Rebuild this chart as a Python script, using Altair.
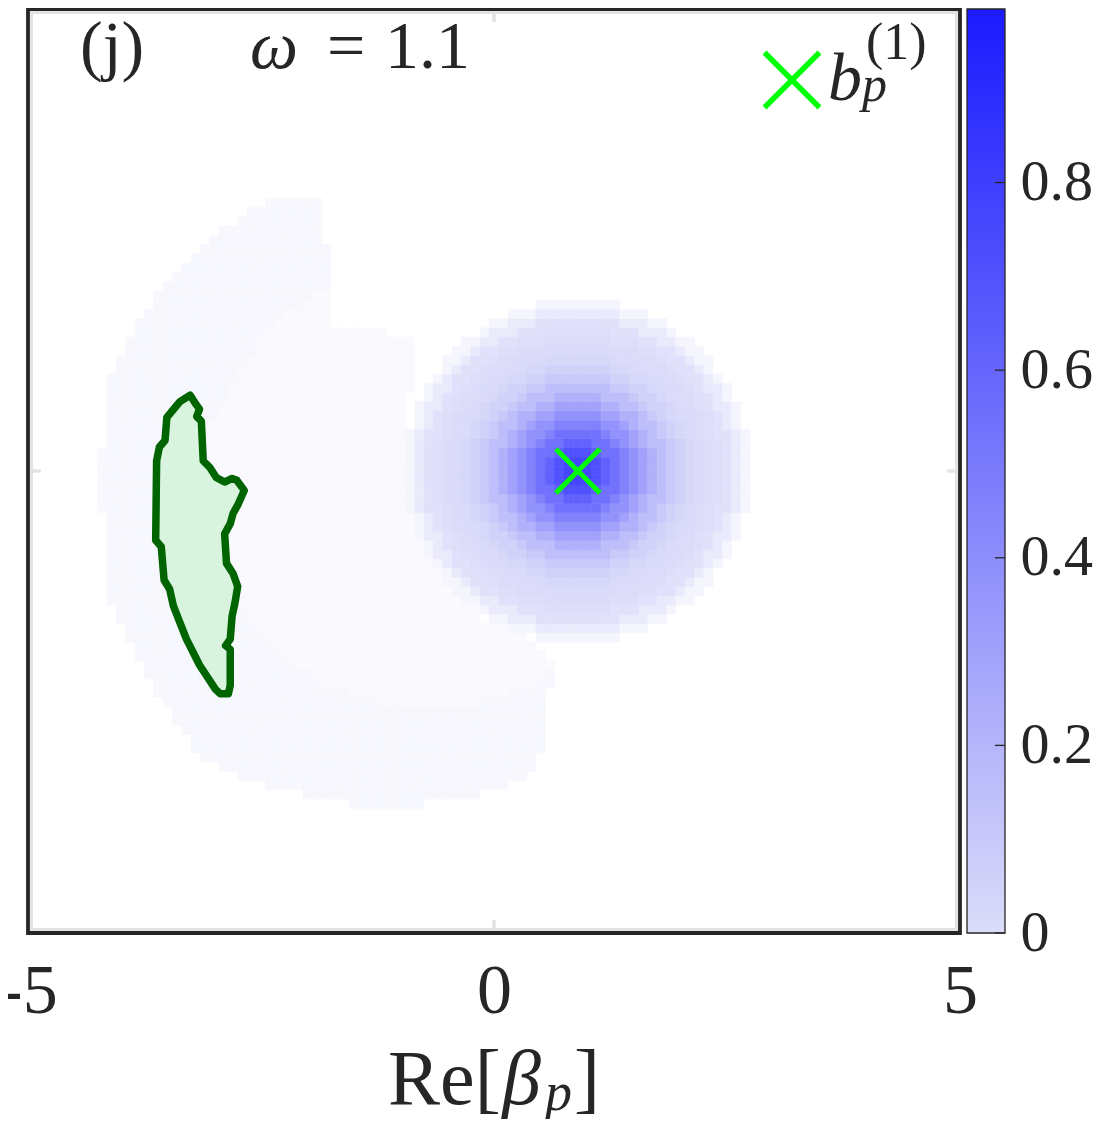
import math
import altair as alt
import pandas as pd

# ---------------- data ----------------
X_DOMAIN = [-5, 5]
Y_DOMAIN = [-5, 5]
X_TICKS = [-5, 0, 5]
INNER_TICKS = [0]
CBAR_DOMAIN = [0, 0.985]
CBAR_TICKS = [0, 0.2, 0.4, 0.6, 0.8]
CELL = 0.1
GRID_HALF = 49

# main blob: centre and level of each ring of cells (ring k = distance ~ k*0.1)
BLOB_CENTER = [0.9, 0.0]
BLOB_RING_LEVELS = [0.80, 0.77, 0.71, 0.63, 0.55, 0.47, 0.39, 0.31, 0.24, 0.17,
                    0.115, 0.075, 0.045, 0.030, 0.022, 0.019, 0.017, 0.012, 0.006]

# faint crescent region (outline), with a slightly darker outer band
FAINT_X = [-2.40, -1.81, -1.78, -0.85, -0.95, -0.60, -0.10, 0.45, 0.63, 0.55,
           0.35, -0.26, -1.22, -1.92, -2.62, -3.10, -3.66, -4.12, -4.23, -4.15,
           -3.58, -3.05]
FAINT_Y = [2.92, 2.94, 1.58, 1.47, 0.30, -1.00, -1.60, -1.85, -2.07, -2.93,
           -3.33, -3.54, -3.65, -3.54, -3.36, -3.14, -2.36, -1.43, -0.14, 1.01,
           2.01, 2.54]
FAINT_ARC_CENTER = [-0.7, -0.17]
FAINT_ARC_INNER_R = 2.4
FAINT_LEVELS = [0.003, 0.0045]

# green contour
CONTOUR_X = [-3.26, -3.37, -3.42, -3.51, -3.53, -3.59, -3.62, -3.63, -3.57, -3.54,
             -3.48, -3.44, -3.37, -3.30, -3.16, -2.99, -2.94, -2.85, -2.83, -2.83,
             -2.88, -2.83, -2.81, -2.78, -2.75, -2.80, -2.87, -2.89, -2.83, -2.80,
             -2.75, -2.68, -2.76, -2.81, -2.89, -2.98, -3.05, -3.12, -3.14, -3.19,
             -3.16, -3.21]
CONTOUR_Y = [0.82, 0.75, 0.69, 0.58, 0.33, 0.26, 0.11, -0.75, -0.82, -1.18,
             -1.28, -1.46, -1.64, -1.82, -2.10, -2.36, -2.41, -2.41, -2.32, -1.93,
             -1.89, -1.82, -1.57, -1.43, -1.25, -1.11, -1.00, -0.68, -0.57, -0.46,
             -0.37, -0.21, -0.10, -0.08, -0.12, -0.07, 0.04, 0.11, 0.54, 0.59,
             0.67, 0.74]

MARKER_X = [0.9]
MARKER_Y = [0.0]

PANEL = "(j)"
OMEGA_SYM = "ω"
OMEGA_EQ = "="
OMEGA_VAL = "1.1"
LEG_B = "b"
LEG_SUB = "p"
LEG_SUP = "(1)"
XT_MAIN = "Re["
XT_BETA = "β"
XT_SUB = "p"
XT_CLOSE = "]"

# ---------------- style ----------------
FONT = "Liberation Serif"
INK = "#262626"
W, H = 932, 924
XSHAPE = "M-1,-1L1,1M-1,1L1,-1"


def inside(px, py, xs, ys):
    c = False
    j = len(xs) - 1
    for i in range(len(xs)):
        if (ys[i] > py) != (ys[j] > py):
            xint = (xs[j] - xs[i]) * (py - ys[i]) / (ys[j] - ys[i]) + xs[i]
            if px < xint:
                c = not c
        j = i
    return c


rows = []
for i in range(-GRID_HALF, GRID_HALF + 1):
    for j in range(-GRID_HALF, GRID_HALF + 1):
        cx, cy = round(i * CELL, 3), round(j * CELL, 3)
        v = 0.0
        k = int(round(math.hypot(cx - BLOB_CENTER[0], cy - BLOB_CENTER[1]) / CELL))
        if k < len(BLOB_RING_LEVELS):
            v = BLOB_RING_LEVELS[k]
        if inside(cx, cy, FAINT_X, FAINT_Y):
            band = math.hypot(cx - FAINT_ARC_CENTER[0], cy - FAINT_ARC_CENTER[1]) >= FAINT_ARC_INNER_R
            v = max(v, FAINT_LEVELS[1] if band else FAINT_LEVELS[0])
        if v > 0:
            rows.append({"x0": round(cx - CELL / 2, 3), "x1": round(cx + CELL / 2, 3),
                         "y0": round(cy - CELL / 2, 3), "y1": round(cy + CELL / 2, 3), "v": v})
cells = pd.DataFrame(rows)

contour = pd.DataFrame({"x": CONTOUR_X + CONTOUR_X[:1], "y": CONTOUR_Y + CONTOUR_Y[:1],
                        "i": list(range(len(CONTOUR_X) + 1))})

xscale = alt.Scale(domain=X_DOMAIN, nice=False, zero=False)
yscale = alt.Scale(domain=Y_DOMAIN, nice=False, zero=False)
heat_scale = alt.Scale(domain=[0, 0.02, CBAR_DOMAIN[1]],
                       range=["#ffffff", "#dcdcfa", "#1a1aff"], interpolate="rgb")

xaxis = alt.Axis(orient="bottom", values=X_TICKS, ticks=False, domain=False, grid=False,
                 labelFont=FONT, labelFontSize=70, labelColor=INK, labelPadding=24,
                 labelExpr="'' + datum.value", labelFlush=False, labelOverlap=False)


def X(f):
    return alt.X(f, type="quantitative", scale=xscale, axis=xaxis, title=None)


def Y(f):
    return alt.Y(f, type="quantitative", scale=yscale, axis=None, title=None)


heat = alt.Chart(cells).mark_rect(strokeWidth=0.6).encode(
    x=X("x0"), x2="x1", y=Y("y0"), y2="y1",
    fill=alt.Fill("v:Q", scale=heat_scale, legend=None),
    stroke=alt.Stroke("v:Q", scale=heat_scale, legend=None),
)

green = alt.Chart(contour).mark_line(
    fill="#d8f4df", stroke="#006400", strokeWidth=7.5, strokeJoin="round", strokeCap="round"
).encode(x=X("x"), y=Y("y"), order=alt.Order("i:Q"))

box = pd.DataFrame({"x0": [X_DOMAIN[0]], "x1": [X_DOMAIN[1]], "y0": [Y_DOMAIN[0]], "y1": [Y_DOMAIN[1]]})
gray_frame = alt.Chart(box).mark_rect(
    filled=False, stroke="#e3e3e3", strokeWidth=3.3,
    xOffset=3.4, x2Offset=-3.4, yOffset=-3.4, y2Offset=3.4
).encode(x=X("x0"), x2="x1", y=Y("y0"), y2="y1")
dark_frame = alt.Chart(box).mark_rect(filled=False, stroke=INK, strokeWidth=3.8).encode(
    x=X("x0"), x2="x1", y=Y("y0"), y2="y1")

tick_df = pd.DataFrame({"v": INNER_TICKS})
tick_style = dict(color="#e3e3e3", strokeWidth=3.5)
t_bottom = alt.Chart(tick_df).mark_rule(**tick_style).encode(x=X("v"), y=alt.value(H - 2), y2=alt.value(H - 13))
t_top = alt.Chart(tick_df).mark_rule(**tick_style).encode(x=X("v"), y=alt.value(2), y2=alt.value(13))
t_left = alt.Chart(tick_df).mark_rule(**tick_style).encode(y=Y("v"), x=alt.value(2), x2=alt.value(13))
t_right = alt.Chart(tick_df).mark_rule(**tick_style).encode(y=Y("v"), x=alt.value(W - 2), x2=alt.value(W - 13))

marker = alt.Chart(pd.DataFrame({"x": MARKER_X, "y": MARKER_Y})).mark_point(
    shape=XSHAPE, size=1936, strokeWidth=5, filled=False, color="#00ff00", opacity=1
).encode(x=X("x"), y=Y("y"))

leg_marker = alt.Chart(pd.DataFrame({"t": [LEG_B]})).mark_point(
    shape=XSHAPE, size=3025, strokeWidth=5.5, filled=False, color="#00ff00", opacity=1
).encode(x=alt.value(764), y=alt.value(71))


def txt(s, x, y, size, italic=False):
    return alt.Chart(pd.DataFrame({"t": [s]})).mark_text(
        align="left", baseline="alphabetic", font=FONT, fontSize=size,
        fontStyle="italic" if italic else "normal", color=INK
    ).encode(text="t:N", x=alt.value(x), y=alt.value(y))


texts = [
    txt(PANEL, 52, 59, 68),
    txt(OMEGA_SYM, 222, 59, 68, True),
    txt(OMEGA_EQ, 299, 59, 68),
    txt(OMEGA_VAL, 357, 59, 68),
    txt(LEG_B, 800, 91, 68, True),
    txt(LEG_SUB, 834, 92, 50, True),
    txt(LEG_SUP, 838, 50, 52),
    txt(XT_MAIN, 360, 1095, 78),
    txt(XT_BETA, 474, 1095, 78, True),
    txt(XT_SUB, 517, 1101, 54, True),
    txt(XT_CLOSE, 546, 1095, 78),
]

main = alt.layer(heat, green, gray_frame, dark_frame, t_bottom, t_top, t_left, t_right,
                 marker, leg_marker, *texts)

cscale = alt.Scale(domain=CBAR_DOMAIN, nice=False, zero=False)
caxis = alt.Axis(orient="right", values=CBAR_TICKS, offset=45, ticks=False, domain=False,
                 grid=False, labelFont=FONT, labelFontSize=58, labelColor=INK,
                 labelPadding=15, format=".1~f", labelFlush=False, labelOverlap=False)
gradient = {"gradient": "linear", "x1": 0, "y1": 1, "x2": 0, "y2": 0,
            "stops": [{"offset": 0, "color": "#dcdcfa"}, {"offset": 1, "color": "#1a1aff"}]}
cbar_rect = alt.Chart(pd.DataFrame({"lo": [CBAR_DOMAIN[0]], "hi": [CBAR_DOMAIN[1]]})).mark_rect(
    fill=gradient, stroke=INK, strokeWidth=1.3
).encode(x=alt.value(939), x2=alt.value(977),
         y=alt.Y("lo:Q", scale=cscale, axis=caxis, title=None), y2="hi")
cbar_ticks = alt.Chart(pd.DataFrame({"v": CBAR_TICKS})).mark_rule(color=INK, strokeWidth=1.3).encode(
    y=alt.Y("v:Q", scale=cscale, axis=caxis, title=None), x=alt.value(967), x2=alt.value(977))
cbar = alt.layer(cbar_rect, cbar_ticks)

chart = alt.layer(main, cbar).resolve_scale(y="independent").properties(
    width=W, height=H,
    padding={"left": 20, "top": 1, "right": 137, "bottom": 186},
    autosize=alt.AutoSizeParams(type="none"),
    background="white",
).configure_view(stroke=None)

chart.save("out.html", embed_options={"renderer": "svg", "actions": False})
